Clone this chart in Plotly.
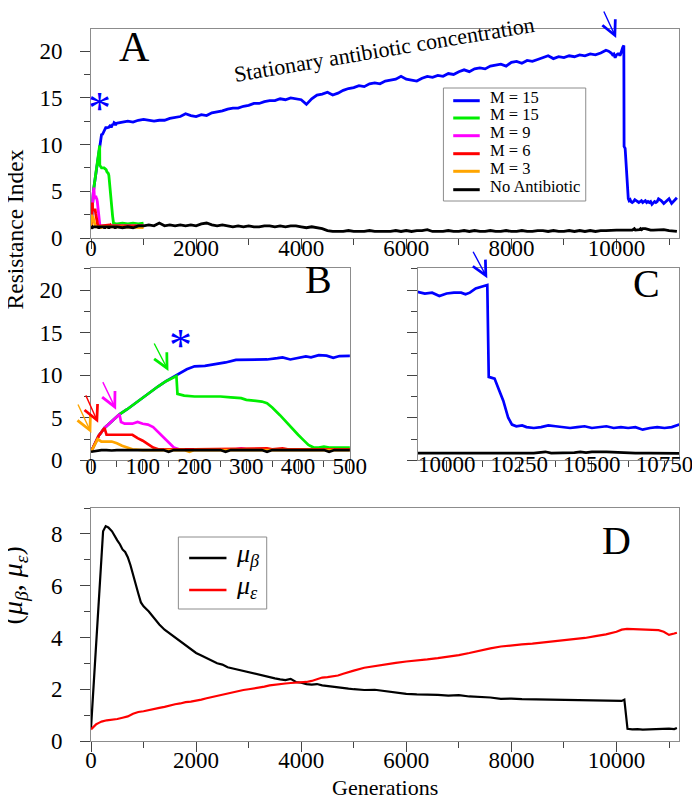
import plotly.graph_objects as go

FONT = "Liberation Serif, Times New Roman, serif"

# ---------------- Data: panels A/B/C (Resistance Index vs generations) ----------------
gen_coarse = [600, 700, 800, 900, 1000, 1100, 1200, 1300, 1400, 1500,
              1600, 1700, 1800, 1900, 2000, 2100, 2200, 2300, 2400, 2500,
              2600, 2700, 2800, 2900, 3000, 3100, 3200, 3300, 3400, 3500,
              3600, 3700, 3800, 3900, 4000, 4100, 4200, 4300, 4400, 4500,
              4600, 4700, 4800, 4900, 5000, 5100, 5200, 5300, 5400, 5500,
              5600, 5700, 5800, 5900, 6000, 6100, 6200, 6300, 6400, 6500,
              6600, 6700, 6800, 6900, 7000, 7100, 7200, 7300, 7400, 7500,
              7600, 7700, 7800, 7900, 8000, 8100, 8200, 8300, 8400, 8500,
              8600, 8700, 8800, 8900, 9000, 9100, 9200, 9300, 9400, 9500,
              9600, 9700, 9800]

# Blue, M = 15 (stationary concentration)
blue_early_gen = [0, 5, 10, 15, 20, 26, 35, 45, 55, 70, 85, 100, 115, 130, 145, 160, 170, 185, 200, 220,
                  240, 260, 280, 300, 320, 340, 360, 370, 385, 400, 415, 425, 440, 455, 468, 480, 500]
blue_early_val = [1.0, 1.6, 2.3, 2.9, 3.3, 3.8, 4.3, 4.9, 5.4, 6.0, 6.7, 7.4, 8.0, 8.7, 9.3, 9.8, 10.2, 10.7, 11.05, 11.1,
                  11.3, 11.5, 11.8, 11.8, 11.8, 11.85, 12.0, 12.1, 11.85, 12.0, 12.2, 12.1, 12.35, 12.3, 12.05, 12.25, 12.3]
blue_coarse_val = [12.4, 12.5, 12.4, 12.6, 12.7, 12.6, 12.5, 12.6, 12.6, 12.8,
                   12.9, 13.0, 13.3, 13.1, 13.0, 13.2, 13.1, 13.4, 13.5, 13.6,
                   13.8, 13.9, 13.9, 14.1, 14.2, 14.4, 14.4, 14.6, 14.7, 14.7,
                   14.9, 14.8, 15.0, 14.9, 14.8, 14.3, 14.9, 15.3, 15.4, 15.6,
                   15.3, 15.5, 15.8, 16.0, 16.1, 16.3, 16.2, 16.5, 16.6, 16.5,
                   16.8, 16.9, 17.0, 17.3, 17.0, 16.9, 16.8, 17.1, 17.3, 17.2,
                   17.4, 17.3, 17.6, 17.5, 17.8, 18.0, 17.8, 18.1, 18.2, 18.1,
                   18.4, 18.5, 18.6, 18.4, 18.8, 18.9, 18.7, 19.0, 18.9, 19.1,
                   19.3, 19.5, 19.2, 19.4, 19.3, 19.5, 19.4, 19.6, 19.5, 19.7,
                   19.6, 19.8, 20.1]
blue_late_gen = [9850, 9900, 9925, 9950, 9975, 10000, 10025, 10050, 10065, 10080,
                 10100, 10120, 10140, 10145, 10165, 10180, 10195, 10212, 10225, 10240,
                 10260, 10275, 10300, 10325, 10350, 10375, 10400, 10425, 10450, 10475,
                 10500, 10525, 10550, 10575, 10600, 10625, 10650, 10675, 10700, 10725,
                 10750, 10775, 10800, 10850, 10900, 10950, 11000, 11050, 11100, 11150]
blue_late_val = [20.0, 19.8, 19.6, 19.7, 19.3, 19.6, 19.7, 19.7, 19.5, 19.7,
                 20.2, 20.4, 20.6, 9.8, 9.6, 8.3, 7.0, 5.0, 4.2, 4.0,
                 4.1, 3.9, 3.8, 3.9, 4.1, 4.0, 3.9, 3.8, 3.9, 4.0,
                 3.8, 3.9, 4.0, 3.8, 3.9, 3.8, 3.9, 3.6, 3.8, 3.9,
                 3.8, 3.9, 4.2, 4.0, 3.7, 4.0, 4.2, 3.7, 4.0, 4.3]

# Green, M = 15
green_gen = [0, 5, 10, 15, 20, 26, 35, 45, 55, 70, 85, 100, 115, 130, 145, 160, 165, 167, 180, 200,
             220, 250, 270, 290, 300, 330, 340, 350, 365, 380, 390, 400, 410, 420, 430, 440, 450, 460, 500, 600,
             700, 800, 900, 1000]
green_val = [1.0, 1.6, 2.3, 2.9, 3.3, 3.8, 4.3, 4.9, 5.4, 6.0, 6.7, 7.4, 8.0, 8.7, 9.3, 9.8, 9.9, 7.8, 7.6, 7.5,
             7.5, 7.5, 7.4, 7.3, 7.1, 6.9, 6.7, 6.2, 5.3, 4.3, 3.6, 3.0, 2.4, 1.8, 1.5, 1.5, 1.6, 1.5, 1.5, 1.6,
             1.5, 1.6, 1.5, 1.6]

# Magenta, M = 9
magenta_gen = [0, 5, 10, 15, 20, 26, 35, 45, 55, 58, 65, 80, 90, 100, 110, 120, 130, 140, 150, 160,
               170, 200, 280, 290, 300, 500, 700, 1000]
magenta_val = [1.0, 1.6, 2.3, 2.9, 3.3, 3.8, 4.3, 4.9, 5.4, 4.5, 4.3, 4.3, 4.5, 4.3, 4.2, 3.9, 3.3, 2.7, 2.1, 1.5,
               1.3, 1.3, 1.3, 1.4, 1.3, 1.3, 1.3, 1.3]

# Red, M = 6
red_gen = [0, 5, 10, 15, 20, 26, 30, 50, 80, 90, 100, 110, 120, 130, 200, 340, 350, 370, 380, 500, 1000]
red_val = [1.0, 1.6, 2.3, 2.9, 3.3, 3.8, 3.0, 3.0, 3.0, 2.6, 2.3, 1.9, 1.5, 1.3, 1.3, 1.4, 1.3, 1.4, 1.3, 1.3, 1.3]

# Orange, M = 3
orange_gen = [0, 5, 10, 13, 20, 40, 50, 60, 70, 80, 100, 180, 190, 200, 500, 1000]
orange_val = [1.0, 1.6, 2.3, 2.5, 2.2, 2.2, 2.0, 1.7, 1.5, 1.3, 1.2, 1.2, 1.0, 1.2, 1.2, 1.1]

# Black, No Antibiotic
black_early_gen = [0, 10, 20, 30, 40, 50, 60, 80, 100, 120, 140, 150, 160, 200, 250, 260, 270, 300, 330, 340,
                   350, 400, 450, 460, 470, 500]
black_early_val = [1.0, 1.1, 1.2, 1.2, 1.15, 1.2, 1.2, 1.2, 1.2, 1.2, 1.2, 1.0, 1.2, 1.2, 1.2, 1.0, 1.2, 1.2, 1.2, 1.0,
                   1.2, 1.2, 1.2, 1.0, 1.2, 1.2]
black_coarse_val = [1.1, 1.2, 1.1, 1.3, 1.3, 1.4, 1.3, 1.6, 1.3, 1.4,
                    1.3, 1.4, 1.3, 1.4, 1.3, 1.5, 1.6, 1.4, 1.3, 1.4,
                    1.3, 1.2, 1.3, 1.2, 1.3, 1.2, 1.2, 1.3, 1.3, 1.2,
                    1.3, 1.2, 1.3, 1.3, 1.2, 1.1, 1.2, 1.1, 1.0, 0.8,
                    0.7, 0.7, 0.7, 0.8, 0.7, 0.7, 0.7, 0.8, 0.7, 0.7,
                    0.7, 0.7, 0.8, 0.7, 0.8, 0.7, 0.8, 0.8, 0.9, 0.7,
                    0.7, 0.7, 0.8, 0.7, 0.7, 0.8, 0.7, 0.8, 0.7, 0.7,
                    0.8, 0.7, 0.7, 0.8, 0.7, 0.7, 0.8, 0.7, 0.7, 0.8,
                    0.8, 0.7, 0.8, 0.7, 0.7, 0.8, 0.7, 0.8, 0.7, 0.8,
                    0.7, 0.8, 0.8]
black_late_gen = [9900, 10000, 10100, 10200, 10300, 10340, 10360, 10440, 10460, 10480,
                  10500, 10550, 10600, 10650, 10700, 10800, 10900, 11000, 11100, 11150]
black_late_val = [0.85, 0.85, 0.85, 0.85, 0.85, 1.0, 0.85, 0.9, 1.0, 0.9,
                  1.0, 1.0, 0.9, 0.85, 0.85, 0.85, 0.9, 0.8, 0.7, 0.7]

# ---------------- Data: panel D (mu_beta, mu_epsilon) ----------------
gen_d_mid = [1000, 1100, 1200, 1300, 1400, 1500, 1600, 1700, 1800, 1900,
             2000, 2100, 2200, 2300, 2400, 2500, 2600, 2700, 2800, 2900,
             3000, 3100, 3200, 3300, 3400, 3500, 3600, 3700, 3800, 3900,
             4000, 4100, 4200, 4300, 4400, 4500, 4600, 4700, 4800, 4900,
             5000]
gen_d_late = [5200, 5400, 5600, 5800, 6000, 6200, 6400, 6600, 6800, 7000,
              7200, 7400, 7600, 7800, 8000, 8200, 8400, 8600, 8800, 9000,
              9200, 9400, 9600, 9800, 10000]

mub_early_gen = [0, 50, 100, 150, 200, 230, 280, 330, 400, 450, 500, 550, 600, 650, 700, 750, 800, 850, 900, 950]
mub_early_val = [0.5, 2.2, 4.0, 5.7, 7.4, 8.1, 8.3, 8.25, 8.1, 7.9, 7.75, 7.6, 7.4, 7.3, 7.1, 6.8, 6.4, 6.0, 5.7, 5.35]
mub_mid_val = [5.2, 5.0, 4.75, 4.5, 4.3, 4.15, 4.0, 3.85, 3.7, 3.55,
               3.4, 3.3, 3.2, 3.1, 3.0, 2.95, 2.85, 2.8, 2.75, 2.7,
               2.65, 2.6, 2.55, 2.5, 2.45, 2.42, 2.38, 2.35, 2.4, 2.28,
               2.25, 2.2, 2.18, 2.2, 2.15, 2.12, 2.1, 2.08, 2.05, 2.02,
               2.0]
mub_late_val = [1.97, 1.98, 1.93, 1.88, 1.82, 1.8, 1.8, 1.78, 1.75, 1.77,
                1.72, 1.7, 1.68, 1.63, 1.64, 1.62, 1.61, 1.62, 1.6, 1.6,
                1.58, 1.57, 1.56, 1.55, 1.53]
mub_end_gen = [10100, 10150, 10170, 10190, 10210, 10300, 10400, 10500, 10600, 10700, 10800, 10900, 11000, 11100, 11150]
mub_end_val = [1.55, 1.6, 1.2, 0.6, 0.47, 0.45, 0.46, 0.44, 0.45, 0.46, 0.48, 0.47, 0.48, 0.46, 0.5]

mue_early_gen = [0, 50, 100, 150, 200, 300, 400, 500, 600, 700, 800, 900]
mue_early_val = [0.45, 0.55, 0.65, 0.7, 0.75, 0.8, 0.82, 0.85, 0.9, 0.95, 1.05, 1.12]
mue_mid_val = [1.15, 1.2, 1.25, 1.28, 1.32, 1.38, 1.42, 1.45, 1.5, 1.52,
               1.55, 1.6, 1.65, 1.7, 1.75, 1.8, 1.85, 1.9, 1.92, 1.97,
               2.0, 2.03, 2.05, 2.1, 2.15, 2.18, 2.2, 2.22, 2.24, 2.25,
               2.27, 2.28, 2.32, 2.38, 2.45, 2.47, 2.5, 2.53, 2.6, 2.67,
               2.72]
mue_late_val = [2.83, 2.9, 2.97, 3.02, 3.07, 3.1, 3.15, 3.2, 3.25, 3.32,
                3.4, 3.5, 3.58, 3.65, 3.7, 3.73, 3.76, 3.8, 3.85, 3.88,
                3.92, 3.98, 4.05, 4.12, 4.22]
mue_end_gen = [10100, 10200, 10400, 10600, 10800, 10900, 11000, 11100, 11150]
mue_end_val = [4.3, 4.33, 4.32, 4.3, 4.28, 4.22, 4.1, 4.15, 4.18]

legend_a_names = ["M = 15", "M = 15", "M = 9", "M = 6", "M = 3", "No Antibiotic"]
legend_d_names = ["<i>μ</i><sub><i>β</i></sub>", "<i>μ</i><sub><i>ε</i></sub>"]
colors_abc = ["#0000FF", "#00EE00", "#FF00FF", "#FF0000", "#FFA500", "#000000"]
colors_d = ["#000000", "#FF0000"]

# ---------------- assemble series ----------------
for a, b in [(blue_early_gen, blue_early_val), (gen_coarse, blue_coarse_val), (blue_late_gen, blue_late_val),
             (green_gen, green_val), (magenta_gen, magenta_val), (red_gen, red_val), (orange_gen, orange_val),
             (black_early_gen, black_early_val), (gen_coarse, black_coarse_val), (black_late_gen, black_late_val),
             (mub_early_gen, mub_early_val), (gen_d_mid, mub_mid_val), (gen_d_late, mub_late_val), (mub_end_gen, mub_end_val),
             (mue_early_gen, mue_early_val), (gen_d_mid, mue_mid_val), (gen_d_late, mue_late_val), (mue_end_gen, mue_end_val)]:
    assert len(a) == len(b), (len(a), len(b))

blue_x = blue_early_gen + gen_coarse + blue_late_gen
blue_y = blue_early_val + blue_coarse_val + blue_late_val
black_x = black_early_gen + gen_coarse + black_late_gen
black_y = black_early_val + black_coarse_val + black_late_val
mub_x = mub_early_gen + gen_d_mid + gen_d_late + mub_end_gen
mub_y = mub_early_val + mub_mid_val + mub_late_val + mub_end_val
mue_x = mue_early_gen + gen_d_mid + gen_d_late + mue_end_gen
mue_y = mue_early_val + mue_mid_val + mue_late_val + mue_end_val

series_abc = [
    (blue_x, blue_y),
    (green_gen, green_val),
    (magenta_gen, magenta_val),
    (red_gen, red_val),
    (orange_gen, orange_val),
    (black_x, black_y),
]

# ---------------- figure geometry (pixels) ----------------
W, H = 700, 795
L, R, T, B = 83, 18, 20, 62
PW, PH = W - L - R, H - T - B


def px(xpix):
    return (xpix - L) / PW


def py(ypix):
    return 1 - (ypix - T) / PH


fig = go.Figure()

# Panel A
for i, (x, y) in enumerate(series_abc):
    fig.add_trace(go.Scatter(x=x, y=y, mode="lines", line=dict(color=colors_abc[i], width=2.8),
                             name=legend_a_names[i], xaxis="x", yaxis="y", showlegend=False))
# Panel B
for i, (x, y) in enumerate(series_abc):
    fig.add_trace(go.Scatter(x=x, y=y, mode="lines", line=dict(color=colors_abc[i], width=2.7),
                             name=legend_a_names[i], xaxis="x2", yaxis="y2", showlegend=False))
# Panel C
for i in [0, 5]:
    x, y = series_abc[i]
    fig.add_trace(go.Scatter(x=x, y=y, mode="lines", line=dict(color=colors_abc[i], width=2.7),
                             name=legend_a_names[i], xaxis="x3", yaxis="y3", showlegend=False))
# Panel D
fig.add_trace(go.Scatter(x=mub_x, y=mub_y, mode="lines", line=dict(color=colors_d[0], width=2.2),
                         name=legend_d_names[0], xaxis="x4", yaxis="y4", showlegend=False))
fig.add_trace(go.Scatter(x=mue_x, y=mue_y, mode="lines", line=dict(color=colors_d[1], width=2.2),
                         name=legend_d_names[1], xaxis="x4", yaxis="y4", showlegend=False))

TICKFONT = dict(family=FONT, size=23, color="black")
axis_style = dict(showline=True, linecolor="#8c8c8c", linewidth=1, mirror=True,
                  ticks="outside", ticklen=10, tickcolor="#444444", tickwidth=1,
                  showgrid=False, zeroline=False, tickformat="d",
                  tickfont=TICKFONT)


def ax(**kw):
    d = dict(axis_style)
    d.update(kw)
    return d


minor_style = dict(ticks="outside", ticklen=6, tickcolor="#444444", showgrid=False)

fig.update_layout(
    width=W, height=H,
    margin=dict(l=L, r=R, t=T, b=B),
    paper_bgcolor="white", plot_bgcolor="white",
    font=dict(family=FONT, color="black"),
    showlegend=False,
    xaxis=ax(domain=[0, 1], anchor="y", range=[0, 11190], tick0=0, dtick=2000, ticklabelstandoff=-21,
             minor=dict(dtick=1000, **minor_style)),
    yaxis=ax(domain=[py(230), py(20.7)], anchor="x", range=[0, 22.4], tick0=0, dtick=5, ticklabelstandoff=13,
             minor=dict(dtick=2.5, **minor_style)),
    xaxis2=ax(domain=[0, px(346.7)], anchor="y2", range=[0, 500], tick0=0, dtick=100, ticklabelstandoff=-25,
              minor=dict(dtick=50, **minor_style)),
    yaxis2=ax(domain=[py(452.3), py(260)], anchor="x2", range=[0, 22.6], tick0=0, dtick=5, ticklabelstandoff=13,
              minor=dict(dtick=2.5, **minor_style)),
    xaxis3=ax(domain=[px(415.7), 1], anchor="y3", range=[9900, 10800], tick0=10000, dtick=250, ticklabelstandoff=-27,
              minor=dict(dtick=125, **minor_style)),
    yaxis3=ax(domain=[py(452.3), py(260)], anchor="x3", range=[0, 22.6], tick0=0, dtick=5,
              showticklabels=False, minor=dict(dtick=2.5, **minor_style)),
    xaxis4=ax(domain=[0, 1], anchor="y4", range=[0, 11190], tick0=0, dtick=2000, ticklabelstandoff=-12,
              minor=dict(dtick=1000, **minor_style)),
    yaxis4=ax(domain=[0, py(500)], anchor="x4", range=[0, 9], tick0=0, dtick=2, ticklabelstandoff=13,
              minor=dict(dtick=1, **minor_style)),
)

annotations = []
shapes = []


def paper_text(xpix, ypix, text, size, color="black", angle=0, xanchor="center"):
    annotations.append(dict(x=px(xpix), y=py(ypix), xref="paper", yref="paper", text=text,
                            showarrow=False, textangle=angle, xanchor=xanchor, yanchor="middle",
                            font=dict(family=FONT, size=size, color=color)))


# Panel letters
paper_text(127, 39, "A", 42)
paper_text(315, 271, "B", 40)
paper_text(649, 275, "C", 40)
paper_text(618, 532, "D", 40)
# curve label
paper_text(381, 41, "Stationary antibiotic concentration", 22, angle=-9.5)
# axis titles
paper_text(6, 221, "Resistance Index", 23.5, angle=-90)
paper_text(5, 577, "(<i>μ</i><sub><i>β</i></sub>, <i>μ</i><sub><i>ε</i></sub>)", 28, angle=-90)
paper_text(382, 779, "Generations", 22)

# Legend of panel A (drawn as box + line samples + labels)
legA_rows = [92.7, 110, 127.7, 145.7, 163.3, 181.7]
shapes.append(dict(type="rect", xref="paper", yref="paper", x0=px(442), x1=px(587), y0=py(193), y1=py(80),
                   line=dict(color="#8c8c8c", width=1), fillcolor="white", layer="above"))
for i, yr in enumerate(legA_rows):
    shapes.append(dict(type="line", xref="paper", yref="paper", x0=px(452), x1=px(479), y0=py(yr), y1=py(yr),
                       line=dict(color=colors_abc[i], width=3), layer="above"))
    paper_text(487, yr - 3, legend_a_names[i], 16.5, xanchor="left")

# Legend of panel D
legD_rows = [550, 582]
shapes.append(dict(type="rect", xref="paper", yref="paper", x0=px(172), x1=px(262), y0=py(601), y1=py(529),
                   line=dict(color="#8c8c8c", width=1), fillcolor="white", layer="above"))
for i, yr in enumerate(legD_rows):
    shapes.append(dict(type="line", xref="paper", yref="paper", x0=px(183), x1=px(221), y0=py(yr), y1=py(yr),
                       line=dict(color=colors_d[i], width=2.5), layer="above"))
    paper_text(229, yr - 3, legend_d_names[i], 26, xanchor="left")


def arrow(xr, yr, x, y, axp, ayp, color):
    annotations.append(dict(x=x, y=y, xref=xr, yref=yr, ax=axp, ay=ayp, text="",
                            showarrow=True, arrowhead=5, arrowsize=2.0, arrowwidth=1.4,
                            arrowcolor=color, standoff=0))


arrow("x", "y", 9994, 21.4, -13, -28, "#0000FF")
arrow("x3", "y3", 10140, 21.4, -15, -28, "#0000FF")
arrow("x2", "y2", 0.6, 3.2, -14, -30, "#FFA500")
arrow("x2", "y2", 13.8, 4.4, -13, -29, "#FF0000")
arrow("x2", "y2", 48.5, 5.95, -14, -29, "#FF00FF")
arrow("x2", "y2", 149.6, 10.5, -15, -29, "#00EE00")

# asterisks
for xr, yr, x, y in [("x", "y", 280, 13.7), ("x2", "y2", 184, 13.4)]:
    annotations.append(dict(x=x, y=y, xref=xr, yref=yr, text="*", showarrow=False,
                            xanchor="center", yanchor="middle", yshift=1, xshift=-6,
                            font=dict(family=FONT, size=46, color="#0000FF")))

fig.update_layout(annotations=annotations, shapes=shapes)

fig.write_html("out.html")
